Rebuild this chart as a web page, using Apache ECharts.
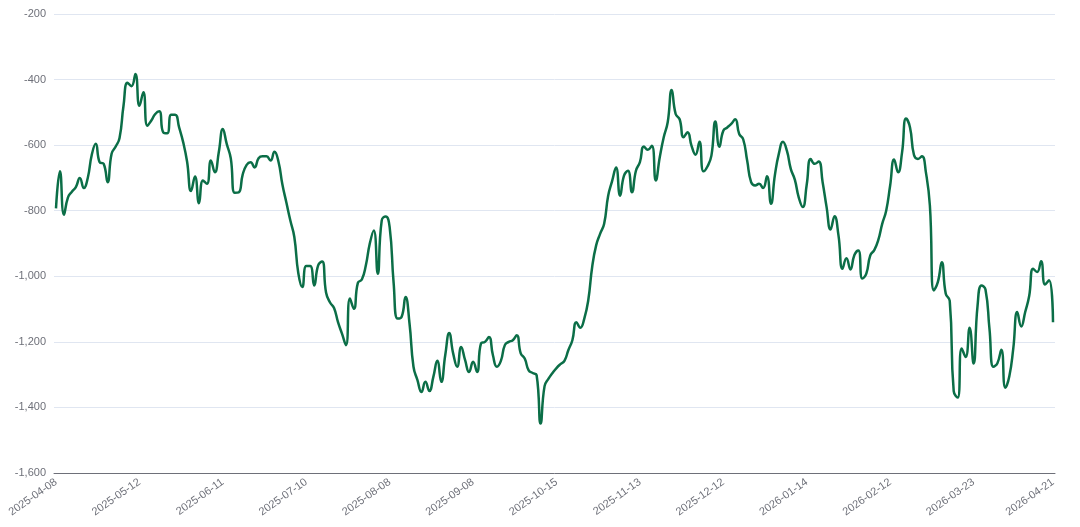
<!DOCTYPE html>
<html>
<head>
<meta charset="utf-8">
<script src="https://cdn.jsdelivr.net/npm/echarts@6/dist/echarts.min.js"></script>
<style>
html,body{margin:0;padding:0;background:#fff;}
#chart{width:1080px;height:527px;}
</style>
</head>
<body>
<div id="chart"></div>
<script>
// Trading-day calendar (mainland China exchange), 2025-04-08 .. 2026-04-21
var startDate = '2025-04-08';
var endDate = '2026-04-21';
var holidays = ['2025-05-01','2025-05-02','2025-05-05','2025-06-02',
  '2025-10-01','2025-10-02','2025-10-03','2025-10-06','2025-10-07','2025-10-08',
  '2026-01-01','2026-01-02','2026-02-16','2026-02-17','2026-02-18','2026-02-19',
  '2026-02-20','2026-02-23','2026-04-06'];

function buildDates(s, e, hol) {
  var out = [];
  var d = new Date(s + 'T00:00:00Z');
  var end = new Date(e + 'T00:00:00Z');
  while (d <= end) {
    var wd = d.getUTCDay();
    var str = d.toISOString().slice(0, 10);
    if (wd !== 0 && wd !== 6 && hol.indexOf(str) < 0) out.push(str);
    d.setUTCDate(d.getUTCDate() + 1);
  }
  return out;
}
var dates = buildDates(startDate, endDate, holidays);

var values = [
  -793, -680, -812, -760, -742, -728, -700, -731, -700, -630,
  -596, -652, -657, -713, -626, -605, -578, -480, -410, -420,
  -383, -480, -439, -541, -525, -505, -497, -561, -564, -507,
  -507, -546, -590, -650, -740, -696, -777, -708, -718, -647,
  -683, -620, -551, -597, -640, -745, -744, -690, -660, -652,
  -668, -640, -634, -634, -647, -620, -650, -720, -775, -830,
  -880, -990, -1033, -969, -969, -1028, -967, -955, -1050, -1080,
  -1097, -1140, -1175, -1210, -1068, -1099, -1020, -1010, -967, -900,
  -860, -992, -830, -818, -850, -1020, -1129, -1124, -1063, -1144,
  -1276, -1317, -1353, -1322, -1350, -1307, -1258, -1322, -1240, -1173,
  -1236, -1276, -1216, -1256, -1292, -1261, -1292, -1205, -1200, -1185,
  -1241, -1276, -1258, -1210, -1200, -1195, -1180, -1235, -1251, -1287,
  -1295, -1302, -1449, -1335, -1312, -1295, -1280, -1268, -1258, -1225,
  -1195, -1140, -1157, -1129, -1073, -970, -905, -870, -840, -755,
  -710, -668, -754, -693, -678, -744, -678, -652, -604, -614,
  -602, -708, -637, -576, -530, -432, -505, -521, -576, -561,
  -602, -629, -590, -680, -665, -632, -528, -605, -556, -546,
  -535, -521, -566, -582, -647, -713, -723, -718, -731, -695,
  -779, -690, -625, -590, -617, -673, -705, -760, -789, -720,
  -642, -657, -650, -713, -789, -857, -817, -876, -977, -945,
  -979, -935, -921, -1007, -992, -936, -920, -890, -840, -800,
  -723, -644, -683, -622, -519, -546, -630, -642, -634, -683,
  -784, -1043, -1018, -957, -1053, -1075, -1350, -1370, -1220, -1246,
  -1157, -1266, -1090, -1028, -1040, -1160, -1276, -1265, -1224, -1340,
  -1305, -1220, -1109, -1153, -1109, -1060, -977, -987, -954, -1025,
  -1012, -1140
];

var yMin = -1600, yMax = -200, yStep = 200;

var chart = echarts.init(document.getElementById('chart'), null, {renderer: 'canvas'});
chart.setOption({
  animation: false,
  grid: {left: 54, right: 25, top: 14, bottom: 54, containLabel: false},
  xAxis: {
    type: 'category',
    data: dates,
    boundaryGap: true,
    axisLine: {lineStyle: {color: '#6E7079'}},
    axisTick: {lineStyle: {color: '#6E7079'}},
    axisLabel: {
      interval: 20,
      showMaxLabel: true,
      rotate: 35,
      color: '#6E7079',
      fontSize: 11,
      fontFamily: 'Liberation Sans, Arial, sans-serif'
    }
  },
  yAxis: {
    type: 'value',
    min: yMin,
    max: yMax,
    interval: yStep,
    axisLine: {show: false},
    axisTick: {show: false},
    axisLabel: {color: '#6E7079', fontSize: 11, fontFamily: 'Liberation Sans, Arial, sans-serif'},
    splitLine: {lineStyle: {color: '#E0E6F1'}}
  },
  series: [{
    type: 'line',
    data: values,
    smooth: true,
    showSymbol: false,
    symbol: 'none',
    lineStyle: {color: '#0b6e47', width: 2.5},
    itemStyle: {color: '#0b6e47'}
  }]
});
</script>
</body>
</html>
